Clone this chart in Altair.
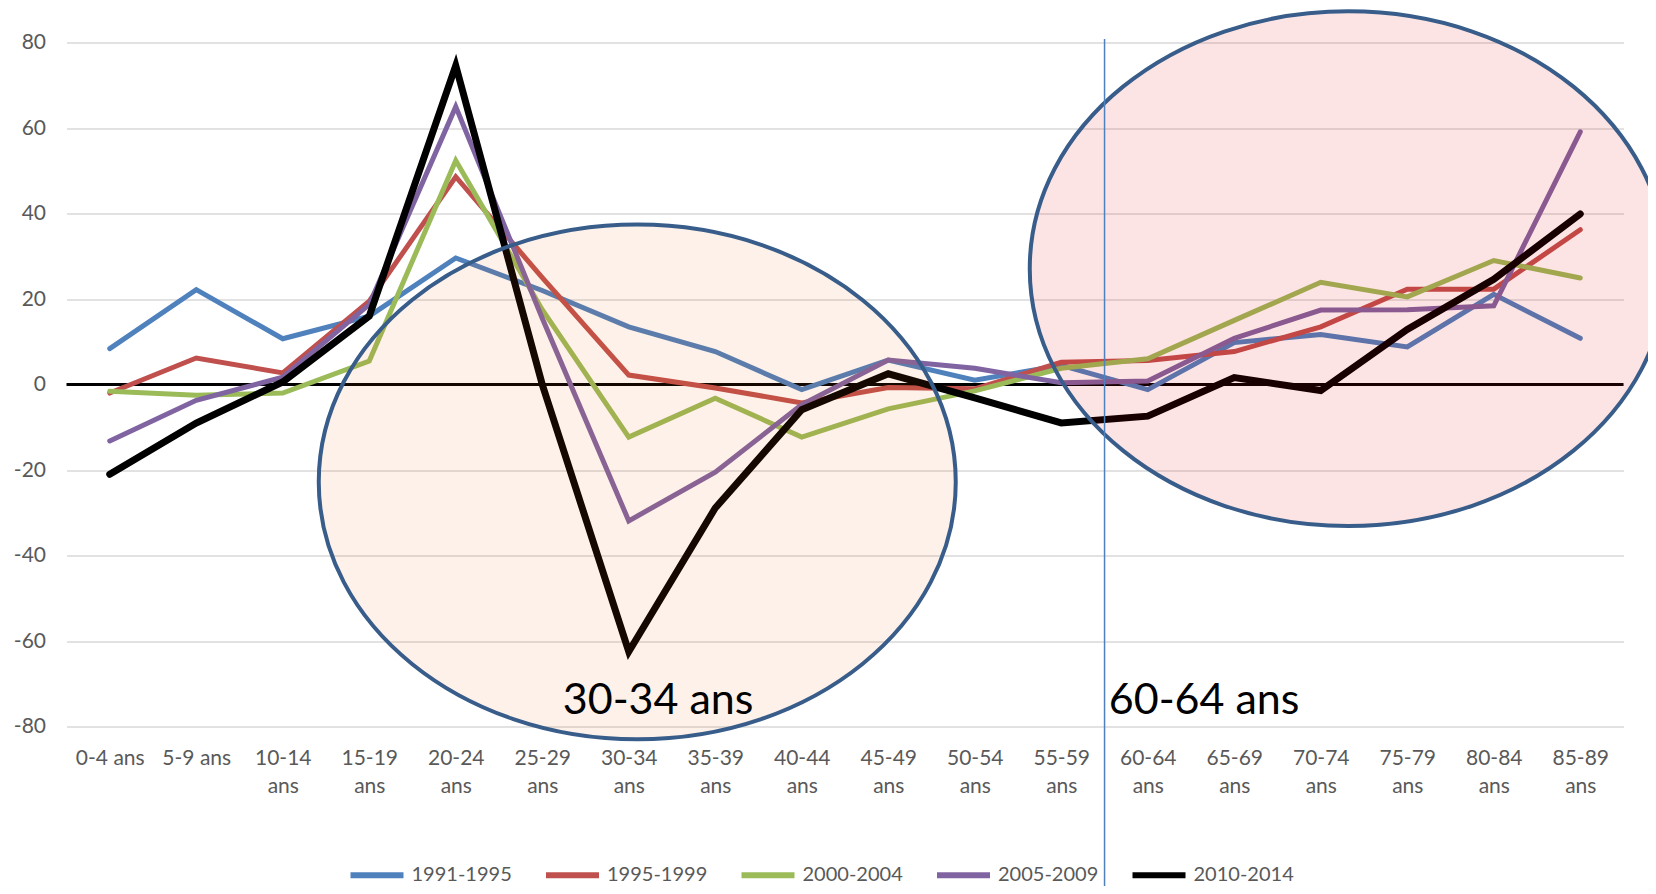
import altair as alt
import pandas as pd

ages = ["0-4 ans", "5-9 ans", "10-14 ans", "15-19 ans", "20-24 ans", "25-29 ans",
        "30-34 ans", "35-39 ans", "40-44 ans", "45-49 ans", "50-54 ans", "55-59 ans",
        "60-64 ans", "65-69 ans", "70-74 ans", "75-79 ans", "80-84 ans", "85-89 ans"]
periods = ["1991-1995", "1995-1999", "2000-2004", "2005-2009", "2010-2014"]
colors = ["#4F81BD", "#C0504D", "#9BBB59", "#8064A2", "#000000"]

v1991 = [8.4, 22.2, 10.7, 16.0, 29.6, 22.0, 13.5, 7.7, -1.2, 5.7, 1.0, 4.5,
         -1.2, 9.8, 11.7, 8.8, 21.1, 10.8]
v1995 = [-2.0, 6.2, 2.7, 19.5, 48.6, 25.0, 2.2, -0.8, -4.3, -0.7, -1.0, 5.2,
         5.6, 7.7, 13.5, 22.3, 22.3, 36.2]
v2000 = [-1.6, -2.5, -2.0, 5.5, 52.4, 17.5, -12.3, -3.2, -12.3, -5.7, -1.5, 3.8,
         6.0, 15.0, 23.9, 20.5, 29.0, 24.9]
v2005 = [-13.2, -3.7, 1.7, 18.7, 65.0, 15.5, -31.9, -20.5, -4.7, 5.7, 3.8, 0.4,
         0.8, 10.8, 17.4, 17.5, 18.4, 59.1]
v2010 = [-21.0, -9.0, 0.6, 16.0, 74.6, 0.0, -62.5, -28.9, -5.9, 2.5, -3.1, -9.0,
         -7.4, 1.6, -1.4, 12.9, 24.6, 39.9]

series = [v1991, v1995, v2000, v2005, v2010]
y_ticks = [-80, -60, -40, -20, 0, 20, 40, 60, 80]

rows = []
for p, vals in zip(periods, series):
    for i, (a, v) in enumerate(zip(ages, vals)):
        rows.append({"age": a, "period": p, "value": v, "idx": i})
df = pd.DataFrame(rows)

W, H = 1557, 684
FONT = "Lato"

xscale = alt.Scale(type="point", domain=ages, padding=0.5)
yscale = alt.Scale(domain=[-80, 80], nice=False, zero=False)

x_enc = alt.X("age:N", scale=xscale, sort=ages, title=None,
              axis=alt.Axis(labelAngle=0, domain=False, ticks=False, grid=False,
                            labelFont=FONT, labelFontSize=21, labelColor="#595959",
                            labelPadding=21, labelLineHeight=28,
                            labelExpr="length(datum.label) > 7 ? split(datum.label, ' ') : datum.label"))
y_enc = alt.Y("value:Q", scale=yscale, title=None,
              axis=alt.Axis(values=y_ticks, domain=False, ticks=False, grid=True,
                            gridColor="#D9D9D9", gridWidth=1.5,
                            labelFont=FONT, labelFontSize=21, labelColor="#595959",
                            labelPadding=21, labelExpr="'' + datum.value"))

color_enc = alt.Color("period:N", scale=alt.Scale(domain=periods, range=colors),
                      legend=alt.Legend(orient="none", legendX=281, legendY=803,
                                        direction="horizontal", title=None,
                                        symbolType="stroke", symbolSize=2809,
                                        symbolStrokeWidth=6, labelFont=FONT,
                                        labelFontSize=20, labelColor="#595959",
                                        labelOffset=5, columnPadding=21.5))

base = alt.Chart(df).encode(x=x_enc, y=y_enc, color=color_enc, order=alt.Order("idx:Q"))

lines_col = base.transform_filter(alt.datum.period != "2010-2014").mark_line(
    strokeCap="round", strokeWidth=5)
lines_blk = base.transform_filter(alt.datum.period == "2010-2014").mark_line(
    strokeCap="round", strokeWidth=7)

zero = alt.Chart(pd.DataFrame({"value": [0]})).mark_rule(color="#000000", strokeWidth=3).encode(
    y=alt.Y("value:Q", scale=yscale))

ellipse_path = ("M -1 0 C -1 -0.4463 -0.5523 -0.808 0 -0.808 "
                "C 0.5523 -0.808 1 -0.4463 1 0 "
                "C 1 0.4463 0.5523 0.808 0 0.808 "
                "C -0.5523 0.808 -1 0.4463 -1 0 Z")

ell1 = alt.Chart(pd.DataFrame({"age": ["30-34 ans"], "value": [-22.8]})).mark_point(
    shape=ellipse_path, size=637 ** 2, filled=True, fill="#EB5F00", fillOpacity=0.085,
    stroke="#385D8A", strokeWidth=4, strokeOpacity=1, opacity=1, xOffset=8.5).encode(
    x=alt.X("age:N", scale=xscale, sort=ages), y=alt.Y("value:Q", scale=yscale))

ell2 = alt.Chart(pd.DataFrame({"age": ["70-74 ans"], "value": [27.1]})).mark_point(
    shape=ellipse_path, size=637 ** 2, filled=True, fill="#E20000", fillOpacity=0.106,
    stroke="#385D8A", strokeWidth=4, strokeOpacity=1, opacity=1, xOffset=27.5).encode(
    x=alt.X("age:N", scale=xscale, sort=ages), y=alt.Y("value:Q", scale=yscale))

vline = alt.Chart(pd.DataFrame({"age": ["55-59 ans"]})).mark_rule(
    color="#4F81BD", strokeWidth=1.5, xOffset=43.3).encode(
    x=alt.X("age:N", scale=xscale, sort=ages),
    y=alt.value(-3.5), y2=alt.value(H + 180))

txt1 = alt.Chart(pd.DataFrame({"age": ["30-34 ans"], "value": [-77.0], "label": ["30-34 ans"]})).mark_text(
    align="left", baseline="alphabetic", font=FONT, fontSize=43, color="#000000", dx=-66).encode(
    x=alt.X("age:N", scale=xscale, sort=ages), y=alt.Y("value:Q", scale=yscale), text="label:N")

txt2 = alt.Chart(pd.DataFrame({"age": ["60-64 ans"], "value": [-77.0], "label": ["60-64 ans"]})).mark_text(
    align="left", baseline="alphabetic", font=FONT, fontSize=43, color="#000000", dx=-39).encode(
    x=alt.X("age:N", scale=xscale, sort=ages), y=alt.Y("value:Q", scale=yscale), text="label:N")

chart = alt.layer(zero, lines_col, lines_blk, ell1, ell2, vline, txt1, txt2).properties(
    width=W, height=H,
    autosize=alt.AutoSizeParams(type="none"),
    padding={"left": 58.5, "top": 34.5, "right": 24, "bottom": 878 - 34.5 - H},
).configure_view(stroke=None)

chart.save("out.html", embed_options={"renderer": "svg", "actions": False})
